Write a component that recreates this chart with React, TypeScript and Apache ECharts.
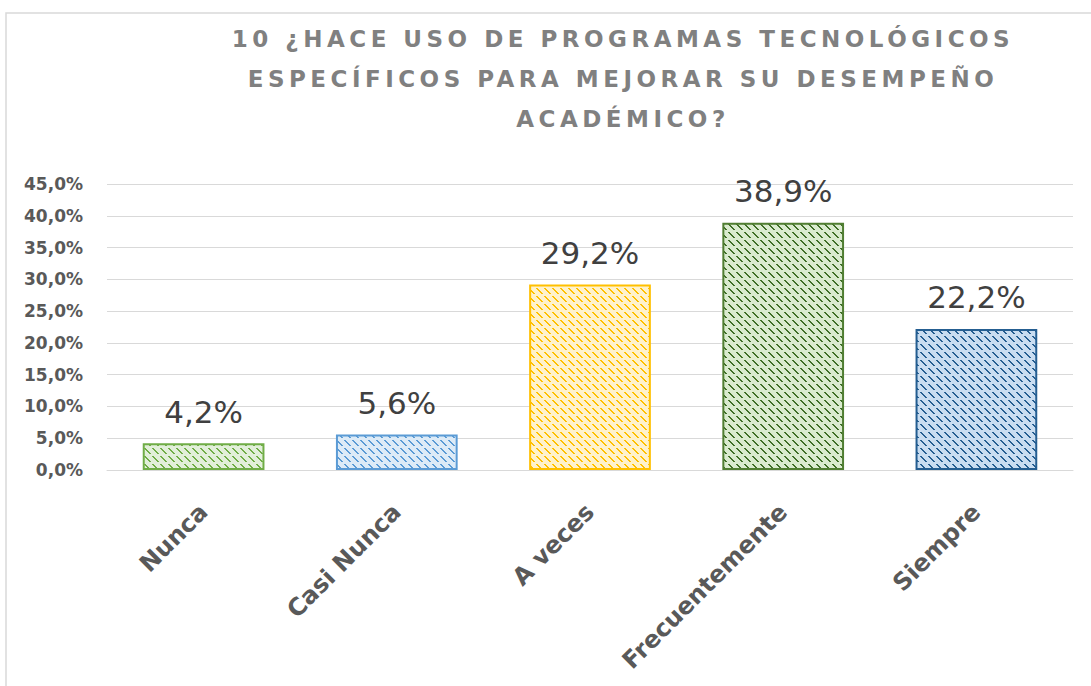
import React, { useEffect, useRef } from "react";
import * as echarts from "echarts";

const categories = ["Nunca", "Casi Nunca", "A veces", "Frecuentemente", "Siempre"];
const values = [4.2, 5.6, 29.2, 38.9, 22.2];
const titleLines = [
  "10 ¿HACE USO DE PROGRAMAS TECNOLÓGICOS",
  "ESPECÍFICOS PARA MEJORAR SU DESEMPEÑO",
  "ACADÉMICO?",
];
const yMax = 45;
const yInterval = 5;
// border, dot colour, background
const barColors = [
  ["#70AD47", "#70AD47", "#E2EFDA"],
  ["#5B9BD5", "#5B9BD5", "#DDEBF7"],
  ["#FFC000", "#FFC000", "#FFF2CC"],
  ["#507E32", "#3F6E27", "#DAEBCF"],
  ["#255E91", "#255E91", "#C9DDF1"],
];

function makePattern(fg: string, bg: string) {
  const c = document.createElement("canvas");
  c.width = 8;
  c.height = 8;
  const ctx = c.getContext("2d")!;
  ctx.fillStyle = bg;
  ctx.fillRect(0, 0, 8, 8);
  ctx.fillStyle = fg;
  for (let y = 0; y < 8; y++) {
    for (let x = 0; x < 8; x++) {
      if ((x - y + 16) % 8 < 2 && y % 8 < 6) {
        ctx.fillRect(x, y, 1, 1);
      }
    }
  }
  return { image: c, repeat: "repeat" as const };
}

const fmt = (v: number) => v.toFixed(1).replace(".", ",") + "%";

export default function App() {
  const ref = useRef<HTMLDivElement>(null);
  useEffect(() => {
    const el = ref.current!;
    const chart = echarts.init(el, null, { renderer: "svg" });
    chart.setOption({
      animation: false,
      backgroundColor: "#ffffff",
      title: {
        text: titleLines.join("\n"),
        left: 623,
        top: 19,
        padding: 0,
        textAlign: "center",
        textStyle: {
          fontFamily: "DejaVu Sans",
          fontWeight: "bold",
          fontSize: 23,
          lineHeight: 40,
          color: "#808080",
        },
      },
      graphic: [
        {
          type: "rect",
          shape: { x: 6, y: 13, width: 1200, height: 800 },
          style: { fill: "none", stroke: "#D9D9D9", lineWidth: 1.5 },
          silent: true,
        },
      ],
      grid: { left: 107, right: 18, top: 184, bottom: 216 },
      xAxis: {
        type: "category",
        data: categories,
        axisLine: { lineStyle: { color: "#D9D9D9", width: 1 } },
        axisTick: { show: false },
        axisLabel: {
          rotate: 45,
          margin: 38,
          interval: 0,
          fontFamily: "DejaVu Sans",
          fontWeight: "bold",
          fontSize: 24,
          color: "#595959",
        },
      },
      yAxis: {
        type: "value",
        min: 0,
        max: yMax,
        interval: yInterval,
        axisLine: { show: false },
        axisTick: { show: false },
        splitLine: { lineStyle: { color: "#D9D9D9", width: 1 } },
        axisLabel: {
          margin: 24,
          formatter: (v: number) => fmt(v),
          fontFamily: "DejaVu Sans",
          fontWeight: "bold",
          fontSize: 17,
          color: "#595959",
        },
      },
      series: [
        {
          type: "bar",
          barWidth: "63%",
          data: values.map((v, i) => ({
            value: v,
            itemStyle: {
              color: makePattern(barColors[i][1], barColors[i][2]),
              borderColor: barColors[i][0],
              borderWidth: 2,
            },
          })),
          label: {
            show: true,
            position: "top",
            distance: 16,
            formatter: (p: any) => fmt(p.value),
            fontFamily: "DejaVu Sans",
            fontSize: 31,
            color: "#404040",
          },
        },
      ],
    });
    const applySpacing = () => {
      el.querySelectorAll("text").forEach((t) => {
        const s = (t.textContent || "").trim();
        if (titleLines.includes(s)) {
          (t as SVGTextElement).setAttribute("letter-spacing", "4.5px");
        }
      });
    };
    applySpacing();
    chart.on("finished", applySpacing);
    return () => chart.dispose();
  }, []);
  return (
    <div
      ref={ref}
      style={{ position: "fixed", left: 0, top: 0, width: 1091, height: 686 }}
    />
  );
}
